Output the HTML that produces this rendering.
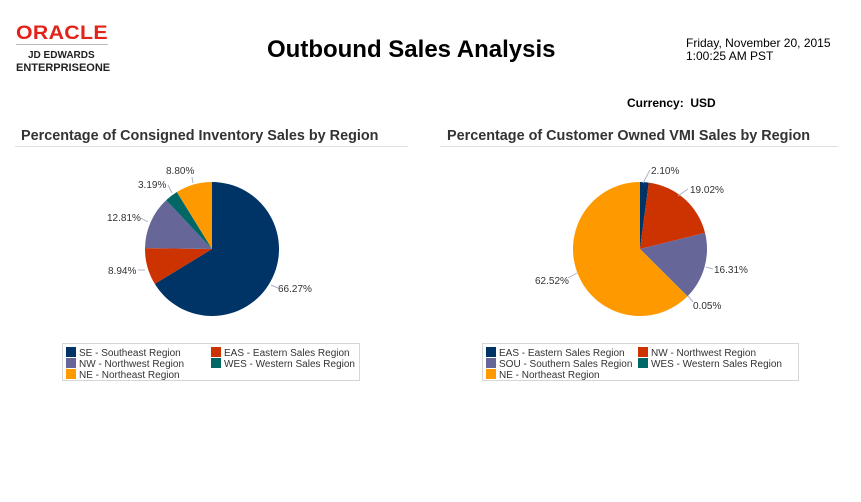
<!DOCTYPE html>
<html><head><meta charset="utf-8"><style>
body{margin:0;width:861px;height:502px;background:#fff;font-family:"Liberation Sans",Arial,sans-serif;position:relative;overflow:hidden}
.a{position:absolute;white-space:nowrap}
.leg{position:absolute;border:1px solid #d6d6d6;height:36px;font-size:10px;color:#333}
.leg div{position:absolute;white-space:nowrap;line-height:11px}
.leg i{display:inline-block;width:10px;height:10px;vertical-align:-1px;margin-right:3px}
</style></head><body>
<div class="a" style="left:16px;top:23px;font-size:19px;font-weight:bold;color:#e2231a;letter-spacing:0.3px;transform:scaleX(1.12);transform-origin:left">ORACLE</div>
<div class="a" style="left:16px;top:44px;width:92px;height:1px;background:#bbb"></div>
<div class="a" style="left:28px;top:50px;font-size:10px;font-weight:bold;color:#222">JD EDWARDS</div>
<div class="a" style="left:16px;top:62px;font-size:11px;font-weight:bold;color:#222">ENTERPRISEONE</div>
<div class="a" style="left:267px;top:36px;font-size:24px;font-weight:bold;color:#000">Outbound Sales Analysis</div>
<div class="a" style="left:686px;top:37px;font-size:12px;color:#000;line-height:13px">Friday, November 20, 2015<br>1:00:25 AM PST</div>
<div class="a" style="left:627px;top:96px;font-size:12px;font-weight:bold;color:#000">Currency:&nbsp; USD</div>
<div class="a" style="left:21px;top:128px;font-size:14.4px;font-weight:bold;color:#333">Percentage of Consigned Inventory Sales by Region</div>
<div class="a" style="left:447px;top:128px;font-size:14.4px;font-weight:bold;color:#333">Percentage of Customer Owned VMI Sales by Region</div>
<div class="a" style="left:15px;top:146px;width:393px;height:1px;background:#e0e0e0"></div>
<div class="a" style="left:440px;top:146px;width:398px;height:1px;background:#e0e0e0"></div>
<svg id="s" width="861" height="502" style="position:absolute;left:0;top:0" font-family="Liberation Sans,Arial,sans-serif" font-size="10" fill="#333"></svg>
<div class="leg" style="left:62px;top:343px;width:296px">
<div style="left:3px;top:3px"><i style="background:#003366"></i>SE - Southeast Region</div>
<div style="left:148px;top:3px"><i style="background:#cc3300"></i>EAS - Eastern Sales Region</div>
<div style="left:3px;top:14px"><i style="background:#666699"></i>NW - Northwest Region</div>
<div style="left:148px;top:14px"><i style="background:#006666"></i>WES - Western Sales Region</div>
<div style="left:3px;top:25px"><i style="background:#ff9900"></i>NE - Northeast Region</div>
</div>
<div class="leg" style="left:482px;top:343px;width:315px">
<div style="left:3px;top:3px"><i style="background:#003366"></i>EAS - Eastern Sales Region</div>
<div style="left:155px;top:3px"><i style="background:#cc3300"></i>NW - Northwest Region</div>
<div style="left:3px;top:14px"><i style="background:#666699"></i>SOU - Southern Sales Region</div>
<div style="left:155px;top:14px"><i style="background:#006666"></i>WES - Western Sales Region</div>
<div style="left:3px;top:25px"><i style="background:#ff9900"></i>NE - Northeast Region</div>
</div>
<script>
var s=document.getElementById('s'),h='';
function pie(cx,cy,r,vals,cols){var a=0;for(var i=0;i<vals.length;i++){var a0=a;a+=vals[i]/100*2*Math.PI;
var x0=cx+r*Math.sin(a0),y0=cy-r*Math.cos(a0),x1=cx+r*Math.sin(a),y1=cy-r*Math.cos(a);
h+='<path d="M'+cx+','+cy+'L'+x0+','+y0+'A'+r+','+r+' 0 '+((a-a0)>Math.PI?1:0)+' 1 '+x1+','+y1+'Z" fill="'+cols[i]+'"/>';}}
var c=['#003366','#cc3300','#666699','#006666','#ff9900'];
pie(212,249,67,[66.27,8.94,12.81,3.19,8.80],c);
pie(640,249,67,[2.10,19.02,16.31,0.05,62.52],c);
function lab(t,x,y,lx1,ly1,lx2,ly2){h+='<line x1="'+lx1+'" y1="'+ly1+'" x2="'+lx2+'" y2="'+ly2+'" stroke="#aab4c8"/>';h+='<text x="'+x+'" y="'+y+'">'+t+'</text>';}
lab('8.80%',166,174,193,183,192,177);
lab('3.19%',138,188,172,193,168,185);
lab('12.81%',107,221,148,222,141,218);
lab('8.94%',108,274,145,270,138,270);
lab('66.27%',278,292,271,285,278,288);
lab('2.10%',651,174,643,183,650,170);
lab('19.02%',690,193,678,196,688,189);
lab('16.31%',714,273,706,267,713,269);
lab('0.05%',693,309,688,296,693,302);
lab('62.52%',535,284,577,273,568,278);
s.innerHTML=h;
</script>
</body></html>
